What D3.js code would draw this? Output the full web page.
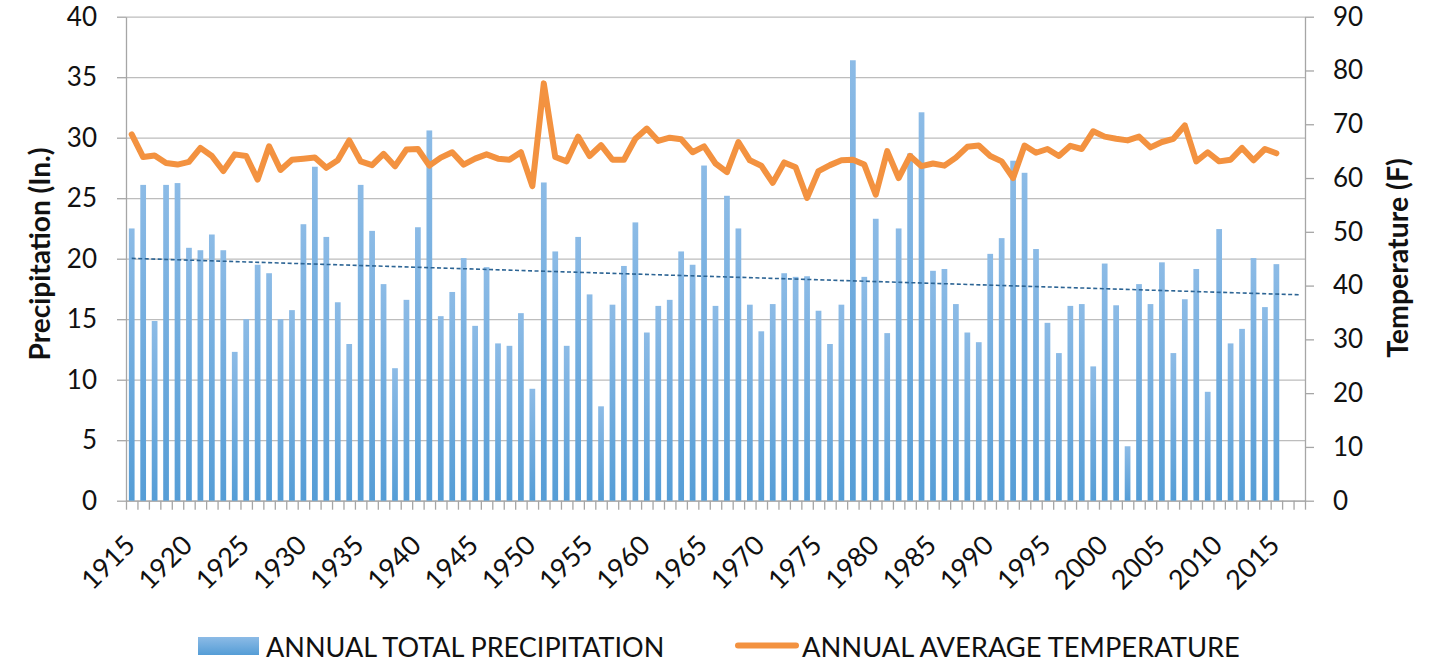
<!DOCTYPE html>
<html>
<head>
<meta charset="utf-8">
<script src="https://cdn.jsdelivr.net/npm/d3@7"></script>
<style>
  body { margin: 0; background: #ffffff; }
  svg { display: block; font-family: Lato, "Open Sans", sans-serif; }
</style>
</head>
<body>
<svg id="chart" width="1450" height="664"></svg>
<script>
// Category axis: one slot per year, the last two years have no data yet
const years = d3.range(1915, 2018);

// Annual total precipitation (inches), 1915–2015
const precipitation = [
  22.5, 26.1, 14.85, 26.1, 26.25, 20.9, 20.7, 22.0, 20.7, 12.3,
  15.0, 19.5, 18.8, 15.0, 15.75, 22.85, 27.6, 21.8, 16.4, 12.95,
  26.1, 22.3, 17.9, 10.95, 16.6, 22.6, 30.6, 15.25, 17.25, 20.05,
  14.45, 19.3, 13.0, 12.8, 15.5, 9.25, 26.3, 20.6, 12.8, 21.8,
  17.05, 7.8, 16.2, 19.4, 23.0, 13.9, 16.1, 16.6, 20.6, 19.5,
  27.7, 16.1, 25.2, 22.5, 16.2, 14.0, 16.25, 18.8, 18.5, 18.55,
  15.7, 12.95, 16.2, 36.4, 18.5, 23.3, 13.85, 22.5, 28.7, 32.1,
  19.0, 19.15, 16.25, 13.9, 13.1, 20.4, 21.7, 28.1, 27.1, 20.8,
  14.7, 12.2, 16.1, 16.25, 11.1, 19.6, 16.15, 4.5, 17.9, 16.25,
  19.7, 12.2, 16.65, 19.15, 9.0, 22.45, 13.0, 14.2, 20.05, 16.0,
  19.55
];

// Annual average temperature (°F), 1915–2015
const temperature = [
  68.1, 63.9, 64.2, 62.8, 62.5, 63.0, 65.6, 64.1, 61.3, 64.4,
  64.1, 59.7, 65.9, 61.5, 63.4, 63.6, 63.8, 61.9, 63.3, 67.0,
  63.1, 62.4, 64.5, 62.2, 65.3, 65.4, 62.3, 63.8, 64.8, 62.5,
  63.6, 64.4, 63.6, 63.4, 64.8, 58.5, 77.6, 63.9, 63.1, 67.7,
  64.1, 66.1, 63.4, 63.4, 67.3, 69.2, 66.9, 67.5, 67.2, 64.8,
  65.9, 62.7, 61.1, 66.7, 63.3, 62.3, 59.1, 62.9, 62.0, 56.3,
  61.3, 62.4, 63.3, 63.4, 62.5, 56.9, 65.0, 60.0, 64.1, 62.2,
  62.7, 62.3, 63.8, 65.8, 66.05, 64.1, 63.1, 60.0, 66.05, 64.7,
  65.4, 64.1, 66.0, 65.4, 68.7, 67.7, 67.3, 67.0, 67.7, 65.7,
  66.7, 67.3, 69.8, 63.1, 64.8, 63.1, 63.4, 65.6, 63.3, 65.4,
  64.6
];

const precipTicks = [0, 5, 10, 15, 20, 25, 30, 35, 40];
const tempTicks = [0, 10, 20, 30, 40, 50, 60, 70, 80, 90];
const yearLabels = d3.range(1915, 2016, 5);

const seriesNames = ["ANNUAL TOTAL PRECIPITATION", "ANNUAL AVERAGE TEMPERATURE"];
const axisTitles = ["Precipitation (In.)", "Temperature (F)"];

// ---- layout ----
const plot = { left: 126, right: 1305, top: 16.7, bottom: 500.7 };
const svg = d3.select("#chart");

const x = d3.scaleBand().domain(years).range([plot.left, plot.right]).padding(0);
const slot = d3.scaleLinear().domain([0, years.length]).range([plot.left, plot.right]);
const yP = d3.scaleLinear().domain([0, 40]).range([plot.bottom, plot.top]);
const yT = d3.scaleLinear().domain([0, 90]).range([plot.bottom, plot.top]);
const cx = yr => x(yr) + x.bandwidth() / 2;

const gridColor = "#bdbdbd";
const axisColor = "#a6a6a6";
const textColor = "#111111";

// bar gradient (lighter at the top of each bar)
const defs = svg.append("defs");
const grad = defs.append("linearGradient")
  .attr("id", "barFill").attr("x1", 0).attr("y1", 0).attr("x2", 0).attr("y2", 1);
grad.append("stop").attr("offset", "0%").attr("stop-color", "#8cbbe6");
grad.append("stop").attr("offset", "100%").attr("stop-color", "#559dd6");

// horizontal gridlines from the precipitation axis
svg.append("g")
  .attr("transform", `translate(${plot.left},0)`)
  .call(d3.axisLeft(yP).tickValues(precipTicks).tickSize(-(plot.right - plot.left)).tickFormat(""))
  .call(g => g.select(".domain").remove())
  .call(g => g.selectAll("line").attr("stroke", gridColor).attr("stroke-width", 1.3));

// left axis
svg.append("g")
  .attr("transform", `translate(${plot.left},0)`)
  .call(d3.axisLeft(yP).tickValues(precipTicks).tickSize(9).tickPadding(20).tickSizeOuter(0))
  .call(g => g.select(".domain").attr("stroke", axisColor).attr("stroke-width", 1.3))
  .call(g => g.selectAll("line").attr("stroke", axisColor).attr("stroke-width", 1.3))
  .call(g => g.selectAll("text").attr("font-size", 26).attr("fill", textColor).attr("font-family", "Lato, sans-serif"));

// right axis
svg.append("g")
  .attr("transform", `translate(${plot.right},0)`)
  .call(d3.axisRight(yT).tickValues(tempTicks).tickSize(9).tickPadding(19).tickSizeOuter(0))
  .call(g => g.select(".domain").attr("stroke", axisColor).attr("stroke-width", 1.3))
  .call(g => g.selectAll("line").attr("stroke", axisColor).attr("stroke-width", 1.3))
  .call(g => g.selectAll("text").attr("font-size", 26).attr("fill", textColor).attr("font-family", "Lato, sans-serif"));

// bottom axis: tick marks between year slots
svg.append("g")
  .attr("transform", `translate(0,${plot.bottom})`)
  .call(d3.axisBottom(slot).tickValues(d3.range(0, years.length + 1)).tickSize(9).tickFormat("").tickSizeOuter(0))
  .call(g => g.select(".domain").attr("stroke", axisColor).attr("stroke-width", 1.3))
  .call(g => g.selectAll("line").attr("stroke", axisColor).attr("stroke-width", 1.3));

// year labels, rotated
svg.append("g").selectAll("text")
  .data(yearLabels)
  .join("text")
  .attr("transform", d => `translate(${cx(d) + 5},547) rotate(-45)`)
  .attr("text-anchor", "end")
  .attr("font-size", 27)
  .attr("fill", textColor)
  .text(d => d);

// precipitation bars
const barW = x.bandwidth() * 0.5;
svg.append("g").selectAll("rect")
  .data(precipitation)
  .join("rect")
  .attr("x", (d, i) => cx(years[i]) - barW / 2)
  .attr("width", barW)
  .attr("y", d => yP(d))
  .attr("height", d => yP(0) - yP(d))
  .attr("fill", "url(#barFill)");

// linear trend of precipitation, extended through the last category
const n = precipitation.length;
const xs = d3.range(n);
const mx = d3.mean(xs), my = d3.mean(precipitation);
const slope = d3.sum(xs, i => (i - mx) * (precipitation[i] - my)) / d3.sum(xs, i => (i - mx) ** 2);
const intercept = my - slope * mx;
const trendEnds = [0, years.length - 1];
svg.append("line")
  .attr("x1", cx(years[trendEnds[0]]))
  .attr("y1", yP(intercept + slope * trendEnds[0]))
  .attr("x2", cx(years[trendEnds[1]]))
  .attr("y2", yP(intercept + slope * trendEnds[1]))
  .attr("stroke", "#2c6494")
  .attr("stroke-width", 1.6)
  .attr("stroke-dasharray", "4,2.5");

// temperature line
svg.append("path")
  .datum(temperature)
  .attr("fill", "none")
  .attr("stroke", "#f39240")
  .attr("stroke-width", 6)
  .attr("stroke-linejoin", "round")
  .attr("stroke-linecap", "round")
  .attr("d", d3.line().x((d, i) => cx(years[i])).y(d => yT(d)));

// axis titles
svg.append("text")
  .attr("transform", `translate(50,254) rotate(-90)`)
  .attr("text-anchor", "middle")
  .attr("font-size", 28)
  .attr("font-weight", "bold")
  .attr("fill", textColor)
  .text(axisTitles[0]);

svg.append("text")
  .attr("transform", `translate(1408,258) rotate(-90)`)
  .attr("text-anchor", "middle")
  .attr("font-size", 28.5)
  .attr("font-weight", "bold")
  .attr("fill", textColor)
  .text(axisTitles[1]);

// legend
const legend = svg.append("g");
legend.append("rect")
  .attr("x", 198).attr("y", 637).attr("width", 61).attr("height", 18)
  .attr("fill", "url(#barFill)");
legend.append("text")
  .attr("x", 266).attr("y", 657)
  .attr("font-size", 27).attr("fill", textColor)
  .text(seriesNames[0]);
legend.append("line")
  .attr("x1", 738).attr("x2", 796).attr("y1", 645.5).attr("y2", 645.5)
  .attr("stroke", "#f39240").attr("stroke-width", 6).attr("stroke-linecap", "round");
legend.append("text")
  .attr("x", 802).attr("y", 657)
  .attr("font-size", 27.3).attr("fill", textColor)
  .text(seriesNames[1]);
</script>
</body>
</html>
